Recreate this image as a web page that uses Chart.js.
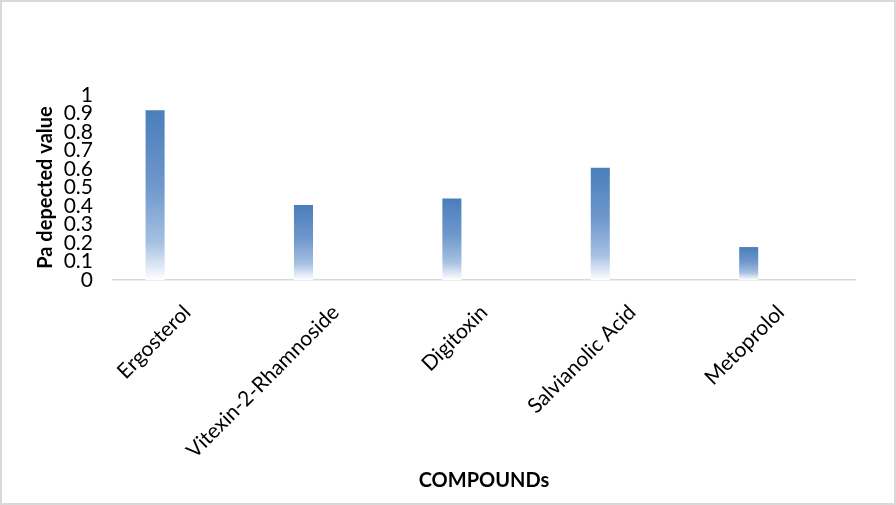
<!DOCTYPE html>
<html>
<head>
<meta charset="utf-8">
<script src="https://cdn.jsdelivr.net/npm/chart.js@4/dist/chart.umd.min.js"></script>
<style>
  html, body { margin: 0; padding: 0; background: #fff; }
  #wrap { width: 896px; height: 505px; position: relative; }
</style>
</head>
<body>
<div id="wrap"><canvas id="myChart" width="896" height="505"></canvas></div>
<script>
// Data
var compounds = ['Ergosterol', 'Vitexin-2-Rhamnoside', 'Digitoxin', 'Salvianolic Acid', 'Metoprolol'];
var paValues = [0.918, 0.405, 0.44, 0.607, 0.178];
// the Excel chart has empty series next to the data, which pushes the bars to the left
var emptySeries = [null, null, null, null, null];
var yTicks = [0, 0.1, 0.2, 0.3, 0.4, 0.5, 0.6, 0.7, 0.8, 0.9, 1];

var FONT = 'Lato, "Open Sans", sans-serif';

//Gradient per bar, dark at top, white at the base
function barGradient(context){
    var chart = context.chart;
    var area = chart.chartArea;
    if (!area || context.raw == null) return '#4f81bd';
    var y = chart.scales.y;
    var top = y.getPixelForValue(context.raw);
    var base = y.getPixelForValue(0);
    var g = chart.ctx.createLinearGradient(0, top, 0, base);
    g.addColorStop(0, '#4a7ebb');
    g.addColorStop(0.45, '#6f98cc');
    g.addColorStop(0.78, '#a6c0e2');
    g.addColorStop(1, '#ffffff');
    return g;
}

// frame round the whole chart
var framePlugin = {
    id: 'frame',
    afterDraw: function(chart){
        var ctx = chart.ctx;
        ctx.save();
        ctx.strokeStyle = '#d9d9d9';
        ctx.lineWidth = 2;
        ctx.strokeRect(1, 1, chart.width - 2, chart.height - 2);
        ctx.restore();
    }
};

var ctx = document.getElementById('myChart');
var myChart = new Chart(ctx, {
    type: 'bar',
    data: {
        labels: compounds,
        datasets: [{
            label: 'Pa',
            data: paValues,
            backgroundColor: barGradient,
            borderWidth: 0
        }, {
            label: 'Series2',
            data: emptySeries
        }, {
            label: 'Series3',
            data: emptySeries
        }, {
            label: 'Series4',
            data: emptySeries
        }]
    },
    options: {
        responsive: false,
        animation: false,
        categoryPercentage: 0.577,
        barPercentage: 0.89,
        layout: {
            padding: { top: 95, right: 41, bottom: 0, left: 0 }
        },
        plugins: {
            legend: { display: false },
            tooltip: { enabled: false }
        },
        scales: {
            x: {
                grid: { display: false, drawTicks: false },
                border: { display: true, color: '#d9d9d9', width: 1.5 },
                ticks: {
                    color: '#000',
                    font: { family: FONT, size: 21 },
                    minRotation: 45,
                    maxRotation: 45,
                    autoSkip: false,
                    padding: 20
                },
                title: {
                    display: true,
                    text: 'COMPOUNDs',
                    color: '#000',
                    font: { family: FONT, size: 20, weight: 'bold' },
                    padding: { top: 0, bottom: 12 }
                },
                afterFit: function(scale){ scale.height = 225; }
            },
            y: {
                min: 0,
                max: 1,
                afterBuildTicks: function(scale){
                    scale.ticks = yTicks.map(function(v){ return { value: v }; });
                },
                grid: { display: false, drawTicks: false },
                border: { display: false },
                ticks: {
                    color: '#000',
                    font: { family: FONT, size: 21 },
                    autoSkip: false,
                    padding: 20,
                    callback: function(v){ return String(v); }
                },
                title: {
                    display: true,
                    text: 'Pa depected value',
                    color: '#000',
                    font: { family: FONT, size: 20, weight: 'bold' },
                    padding: { top: 34, bottom: 0 }
                },
                afterFit: function(scale){ scale.width = 113; }
            }
        }
    },
    plugins: [framePlugin]
});
</script>
</body>
</html>
